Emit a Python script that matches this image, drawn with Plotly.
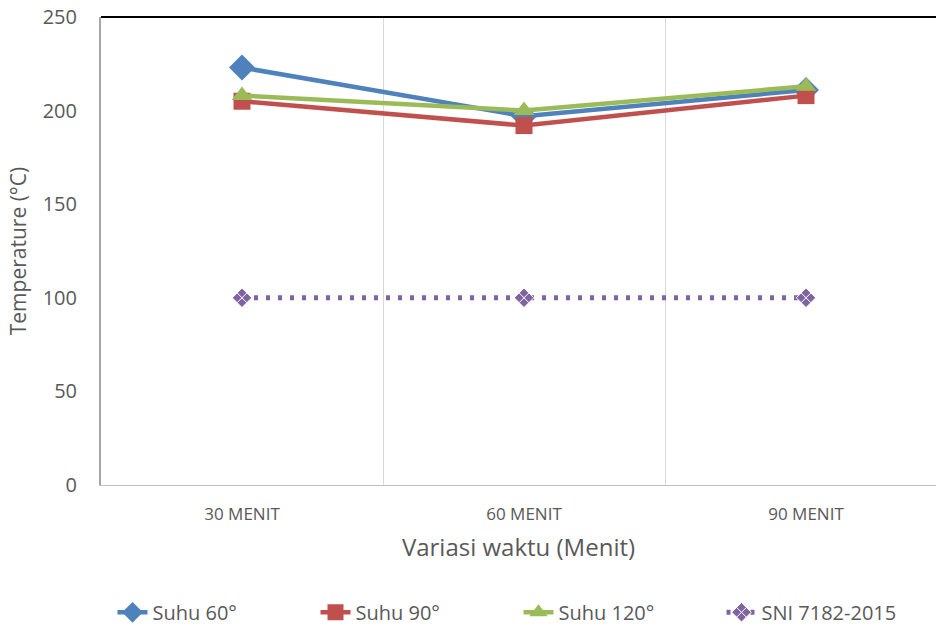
import plotly.graph_objects as go

categories = ["30 MENIT", "60 MENIT", "90 MENIT"]
suhu_60 = [223, 197, 211]
suhu_90 = [205, 192, 208]
suhu_120 = [208, 200, 213]
sni = [100, 100, 100]

xpos = list(range(len(categories)))
FONT = "'Open Sans', sans-serif"
GRAY = "#595959"

fig = go.Figure()
fig.add_trace(go.Scatter(x=xpos, y=suhu_60, name="Suhu 60°", mode="lines+markers",
                         line=dict(color="#4F81BD", width=4.5),
                         marker=dict(symbol="diamond", size=20, color="#4F81BD")))
fig.add_trace(go.Scatter(x=xpos, y=suhu_90, name="Suhu 90°", mode="lines+markers",
                         line=dict(color="#C0504D", width=4.5),
                         marker=dict(symbol="square", size=17, color="#C0504D")))
fig.add_trace(go.Scatter(x=xpos, y=suhu_120, name="Suhu 120°", mode="lines+markers",
                         line=dict(color="#9BBB59", width=4.5),
                         marker=dict(symbol="triangle-up", size=18, color="#9BBB59")))
fig.add_trace(go.Scatter(x=xpos, y=sni, name="SNI 7182-2015", mode="lines+markers",
                         line=dict(color="#8064A2", width=5, dash="4px,8px"),
                         marker=dict(symbol="diamond-x", size=15, color="#8064A2",
                                     line=dict(color="white", width=1))))

fig.update_layout(
    width=936, height=628,
    margin=dict(l=101, r=0, t=17, b=143, autoexpand=False),
    paper_bgcolor="white", plot_bgcolor="white",
    font=dict(family=FONT, color=GRAY, size=16),
    showlegend=True,
    legend=dict(orientation="h", x=0.5, xanchor="center", y=-0.272, yanchor="middle",
                font=dict(size=20, color=GRAY), entrywidth=158, entrywidthmode="pixels",
                tracegroupgap=0),
    xaxis=dict(range=[-0.5, 2.461], tickvals=xpos, ticktext=categories, automargin=False,
               showgrid=False, zeroline=False, showline=True, linecolor="#BFBFBF", linewidth=1,
               ticks="", tickfont=dict(size=17, color=GRAY), ticklabelstandoff=14,
               minor=dict(tick0=0.5, dtick=1, showgrid=True, gridcolor="#D9D9D9", gridwidth=1),
               title=dict(text="Variasi waktu (Menit)", font=dict(size=24, color=GRAY), standoff=14)),
    yaxis=dict(range=[0, 250], dtick=50, showgrid=False, zeroline=False, automargin=False,
               showline=True, linecolor="#A6A6A6", linewidth=2, ticks="",
               tickfont=dict(size=20, color=GRAY), ticklabelstandoff=18,
               title=dict(text="Temperature (°C)", font=dict(size=21, color=GRAY), standoff=10)),
    shapes=[dict(type="line", xref="paper", yref="paper", x0=0, x1=1, y0=1, y1=1,
                 line=dict(color="black", width=2))],
)

fig.write_html("out.html", config={"displayModeBar": False},
               post_script="document.body.style.margin='0';document.body.style.overflow='hidden';")
